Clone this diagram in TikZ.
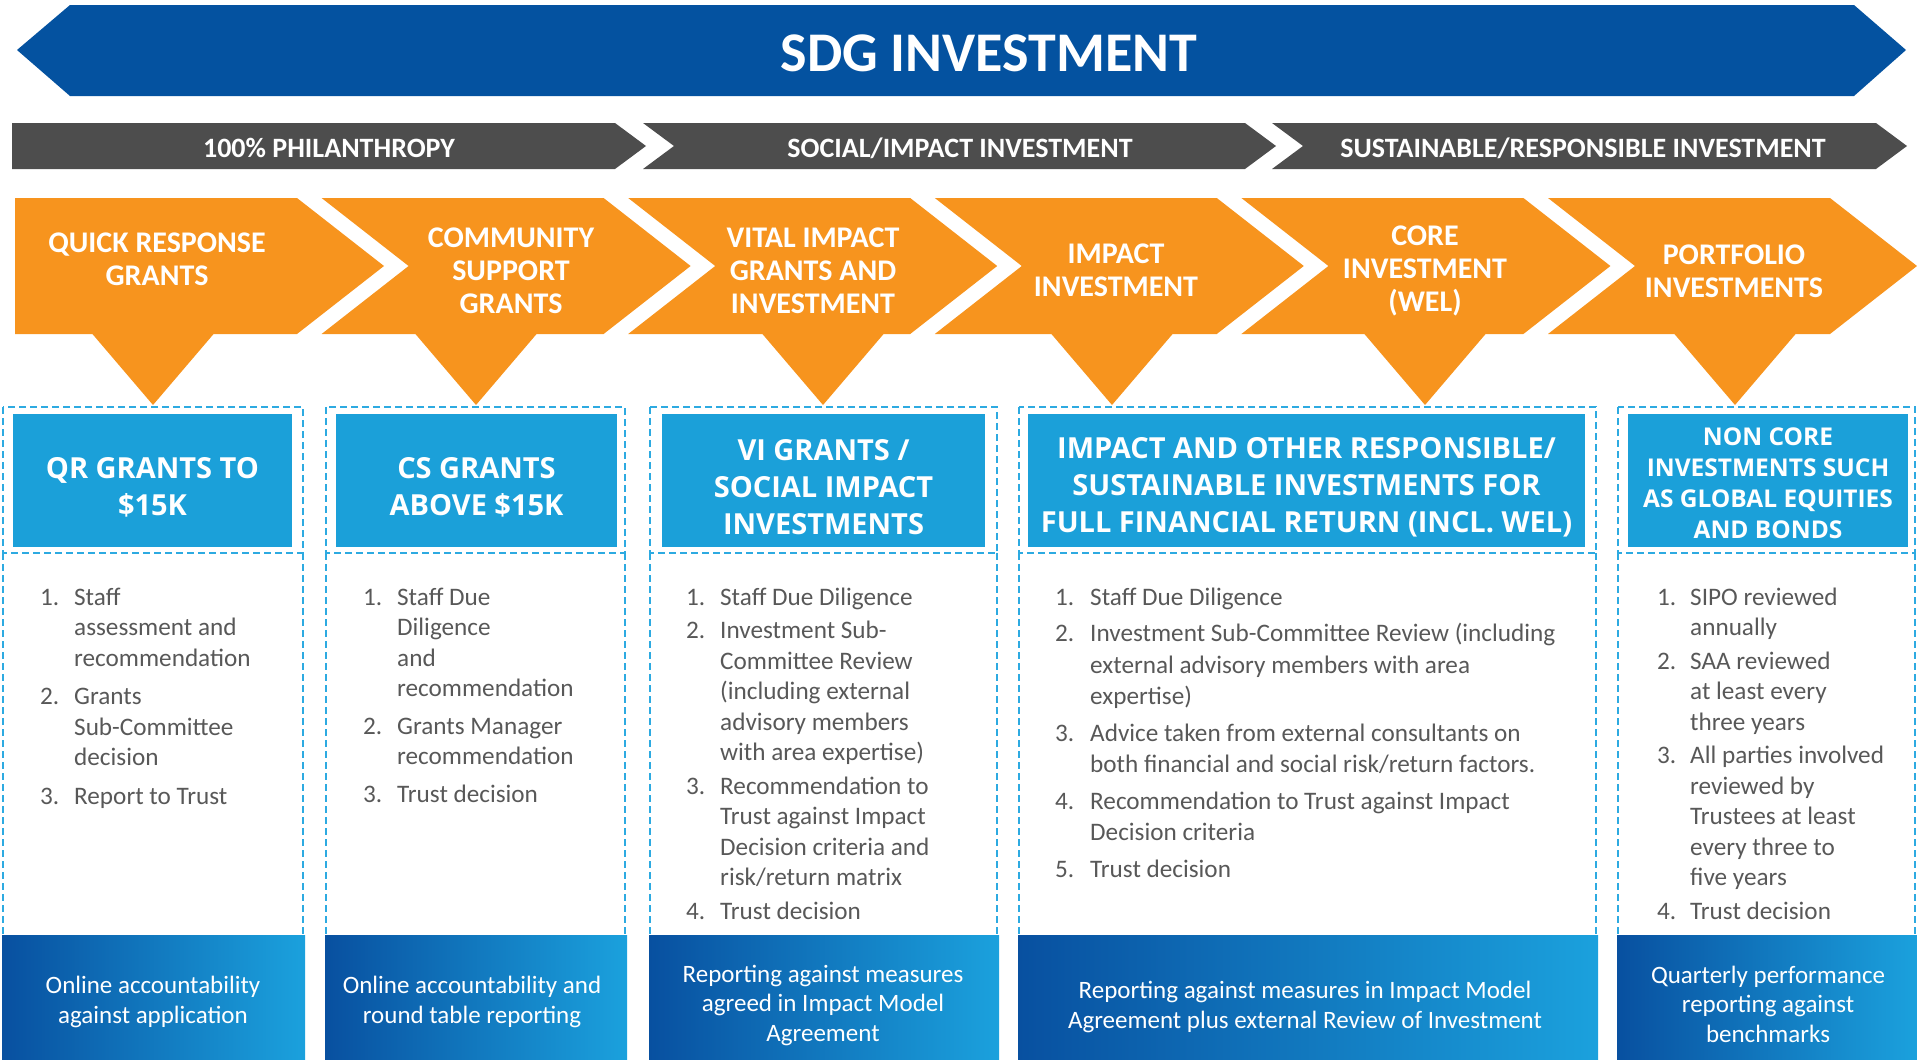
\documentclass[tikz,border=0pt]{standalone}
\usepackage{fontspec}
\setmainfont{Carlito}
\newfontfamily\headfont{Open Sans}
\usepackage{tikz}

\definecolor{sdgblue}{RGB}{4,82,160}
\definecolor{bargray}{RGB}{77,77,77}
\definecolor{chevorange}{RGB}{247,148,30}
\definecolor{headblue}{RGB}{27,160,217}
\definecolor{dashblue}{RGB}{45,170,225}
\definecolor{textgray}{RGB}{88,88,88}
\definecolor{footdark}{RGB}{8,80,160}
\definecolor{footmid}{RGB}{4,115,186}
\definecolor{footlight}{RGB}{27,161,221}

\tikzset{
  titletext/.style={text=white, font=\fontsize{56}{60}\selectfont\bfseries},
  bartext/.style={text=white, font=\fontsize{28}{30}\selectfont\bfseries},
  chevtext/.style={text=white, align=center, font=\fontsize{30}{33}\selectfont\bfseries},
  headbox/.style={fill=headblue, inner sep=0pt, minimum height=133pt},
  headtext/.style={text=white, align=center, inner sep=0pt,
    font=\headfont\fontsize{29}{37}\selectfont\bfseries},
  dashbox/.style={draw=dashblue, line width=1.6pt, dash pattern=on 7pt off 4pt},
  footshade/.style={left color=footdark, middle color=footmid, right color=footlight},
  steplist/.style={anchor=base west, inner sep=0pt, text=textgray,
    font=\fontsize{25.2}{30.5}\selectfont},
  foottext/.style={text=white, align=center, font=\fontsize{25}{29.5}\selectfont},
}

\begin{document}
\begin{tikzpicture}[x=1pt, y=-1pt]
	\useasboundingbox (0,0) rectangle (1917,1060);
	% Banner
	\fill[sdgblue] (17,50) -- (70,5) -- (1854,5) -- (1906,50) -- (1854,96) -- (70,96) -- cycle;
	\node[titletext, anchor=base] (Title) at (989,71) {SDG INVESTMENT};
	% Grey phase bar
	\fill[bargray] (12,123) -- (615,123) -- (646,146) -- (615,169) -- (12,169) -- cycle;
	\foreach \xs/\xe in {643/1245, 1272/1876}
		\fill[bargray] (\xs,123) -- (\xe,123) -- (\xe+31,146) -- (\xe,169) -- (\xs,169) -- (\xs+31,146) -- cycle;
	\node[bartext, anchor=base] (Phil) at (329,157) {100\% PHILANTHROPY};
	\node[bartext, anchor=base] (Social) at (960,157) {SOCIAL/IMPACT INVESTMENT};
	\node[bartext, anchor=base] (Sust) at (1583,157) {SUSTAINABLE/RESPONSIBLE INVESTMENT};
	% Orange chevrons, each with its pointer
	\foreach \i/\px in {0/153, 1/476, 2/823, 3/1112, 4/1425, 5/1735} {
		\pgfmathsetmacro\xa{15+306.6*\i}
		\pgfmathsetmacro\nd{\i==0 ? 0 : 87}
		\fill[chevorange] (\xa,198) -- (\xa+282,198) -- (\xa+369,266) -- (\xa+282,334) -- (\xa,334) -- (\xa+\nd,266) -- cycle;
		\fill[chevorange] (\px-64,330) -- (\px+64,330) -- (\px,405) -- cycle;
	}
	\node[chevtext] (Quick) at (157,259) {QUICK RESPONSE\\GRANTS};
	\node[chevtext] (Community) at (511,271) {COMMUNITY\\SUPPORT\\GRANTS};
	\node[chevtext] (Vital) at (813,271) {VITAL IMPACT\\GRANTS AND\\INVESTMENT};
	\node[chevtext] (Impact) at (1116,270) {IMPACT\\INVESTMENT};
	\node[chevtext] (Core) at (1425,271) {CORE\\INVESTMENT\\(WEL)};
	\node[chevtext] (Portfolio) at (1734,271) {PORTFOLIO\\INVESTMENTS};
	% Columns: dashed frame and footer
	\foreach \xl/\xr in {3/303, 326/625, 650/997, 1019/1596, 1618/1915} {
		\draw[dashbox] (\xl,407) rectangle (\xr,553);
		\draw[dashbox] (\xl,553) -- (\xl,935) (\xr,553) -- (\xr,935);
		\shade[footshade] (\xl-1,935) rectangle (\xr+2,1060);
	}
	% Headers
	\node[headbox, minimum width=279pt] (QR) at (152.5,480.5) {};
	\node[headbox, minimum width=281pt] (CS) at (476.5,480.5) {};
	\node[headbox, minimum width=323pt] (VI) at (823.5,480.5) {};
	\node[headbox, minimum width=557pt] (Resp) at (1306.5,480.5) {};
	\node[headbox, minimum width=280pt] (NonCore) at (1768,480.5) {};
	\node[headtext] (QRtext) at ([yshift=-7pt]QR.center) {QR GRANTS TO\\\$15K};
	\node[headtext] (CStext) at ([yshift=-7pt]CS.center) {CS GRANTS\\ABOVE \$15K};
	\node[headtext] (VItext) at ([yshift=-7pt]VI.center) {VI GRANTS /\\SOCIAL IMPACT\\INVESTMENTS};
	\node[headtext] (Resptext) at ([yshift=-7pt]Resp.center) {IMPACT AND OTHER RESPONSIBLE/\\SUSTAINABLE INVESTMENTS FOR\\FULL FINANCIAL RETURN (INCL. WEL)};
	\node[headtext, font=\headfont\fontsize{24.5}{31}\selectfont\bfseries] (NonCoretext) at ([yshift=-3pt]NonCore.center) {NON CORE\\INVESTMENTS SUCH\\AS GLOBAL EQUITIES\\AND BONDS};
	% Steps
	\node[steplist] (QRsteps) at (40,605) {\begin{tabular}[t]{@{}p{34pt}@{}l@{}}
		1.&Staff\\ &assessment and\\ &recommendation\\[8pt]
		2.&Grants\\ &Sub-Committee\\ &decision\\[8pt]
		3.&Report to Trust\end{tabular}};
	\node[steplist] (CSsteps) at (363,605) {\begin{tabular}[t]{@{}p{34pt}@{}l@{}}
		1.&Staff Due\\ &Diligence\\ &and\\ &recommendation\\[7pt]
		2.&Grants Manager\\ &recommendation\\[7pt]
		3.&Trust decision\end{tabular}};
	\node[steplist] (VIsteps) at (686,605) {\begin{tabular}[t]{@{}p{34pt}@{}l@{}}
		1.&Staff Due Diligence\\[3pt]
		2.&Investment Sub-\\ &Committee Review\\ &(including external\\ &advisory members\\ &with area expertise)\\[3pt]
		3.&Recommendation to\\ &Trust against Impact\\ &Decision criteria and\\ &risk/return matrix\\[3pt]
		4.&Trust decision\end{tabular}};
	\node[steplist, font=\fontsize{25.2}{31.5}\selectfont] (Respsteps) at (1055,605) {\begin{tabular}[t]{@{}p{35pt}@{}l@{}}
		1.&Staff Due Diligence\\[5pt]
		2.&Investment Sub-Committee Review (including\\ &external advisory members with area\\ &expertise)\\[5pt]
		3.&Advice taken from external consultants on\\ &both financial and social risk/return factors.\\[5pt]
		4.&Recommendation to Trust against Impact\\ &Decision criteria\\[5pt]
		5.&Trust decision\end{tabular}};
	\node[steplist] (NonCoresteps) at (1657,605) {\begin{tabular}[t]{@{}p{33pt}@{}l@{}}
		1.&SIPO reviewed\\ &annually\\[3.2pt]
		2.&SAA reviewed\\ &at least every\\ &three years\\[3.2pt]
		3.&All parties involved\\ &reviewed by\\ &Trustees at least\\ &every three to\\ &five years\\[3.2pt]
		4.&Trust decision\end{tabular}};
	% Reporting
	\node[foottext] (QRrep) at (153,1002) {Online accountability\\against application};
	\node[foottext] (CSrep) at (472,1002) {Online accountability and\\round table reporting};
	\node[foottext] (VIrep) at (823,1005) {Reporting against measures\\agreed in Impact Model\\Agreement};
	\node[foottext] (Resprep) at (1305,1007) {Reporting against measures in Impact Model\\Agreement plus external Review of Investment};
	\node[foottext] (NonCorerep) at (1768,1004) {Quarterly performance\\reporting against\\benchmarks};
\end{tikzpicture}
\end{document}
